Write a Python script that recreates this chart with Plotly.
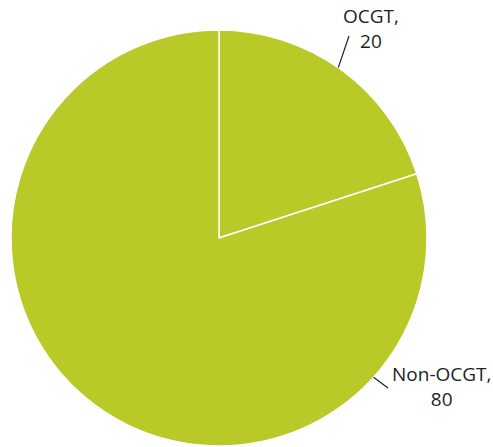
import math
import plotly.graph_objects as go

# Generation share by plant type
labels = ["OCGT", "Non-OCGT"]
values = [20, 80]

W, H = 493, 447
CX, CY, R = 219, 238, 208  # pie centre and radius in pixels
SLICE_COLOR = "#b8c928"
TEXT_COLOR = "#231f20"
FONT = "Open Sans"


def px_to_paper(x, y):
    return x / W, 1 - y / H


fig = go.Figure(
    go.Pie(
        labels=labels,
        values=values,
        sort=False,
        direction="clockwise",
        rotation=0,
        marker=dict(colors=[SLICE_COLOR] * len(values), line=dict(color="white", width=1.5)),
        textinfo="none",
        hoverinfo="label+value",
        showlegend=False,
        domain=dict(
            x=[(CX - R) / W, (CX + R) / W],
            y=[1 - (CY + R) / H, 1 - (CY - R) / H],
        ),
    )
)

# Leader lines: start at the rim at a chosen angle (degrees clockwise from 12 o'clock)
total = sum(values)
ocgt_mid = values[0] / total * 360 / 2
label_specs = [
    # (text, rim angle, leader end in px, text centre in px)
    (f"{labels[0]},<br>{values[0]}", ocgt_mid - 1, (349, 36), (371, 29)),
    (f"{labels[1]},<br>{values[1]}", 132, (388, 388), (441, 386)),
]

shapes = []
annotations = []
for text, ang, (ex, ey), (tx, ty) in label_specs:
    a = math.radians(ang)
    sx = CX + R * math.sin(a)
    sy = CY - R * math.cos(a)
    x0, y0 = px_to_paper(sx, sy)
    x1, y1 = px_to_paper(ex, ey)
    shapes.append(dict(type="line", xref="paper", yref="paper", x0=x0, y0=y0, x1=x1, y1=y1,
                       line=dict(color=TEXT_COLOR, width=1.2)))
    ax, ay = px_to_paper(tx, ty)
    annotations.append(dict(text=text, x=ax, y=ay, xref="paper", yref="paper",
                            xanchor="center", yanchor="middle", showarrow=False,
                            align="center", font=dict(family=FONT, size=19, color=TEXT_COLOR)))

fig.update_layout(
    width=W,
    height=H,
    margin=dict(l=0, r=0, t=0, b=0),
    paper_bgcolor="white",
    plot_bgcolor="white",
    shapes=shapes,
    annotations=annotations,
)

fig.write_html("out.html")
